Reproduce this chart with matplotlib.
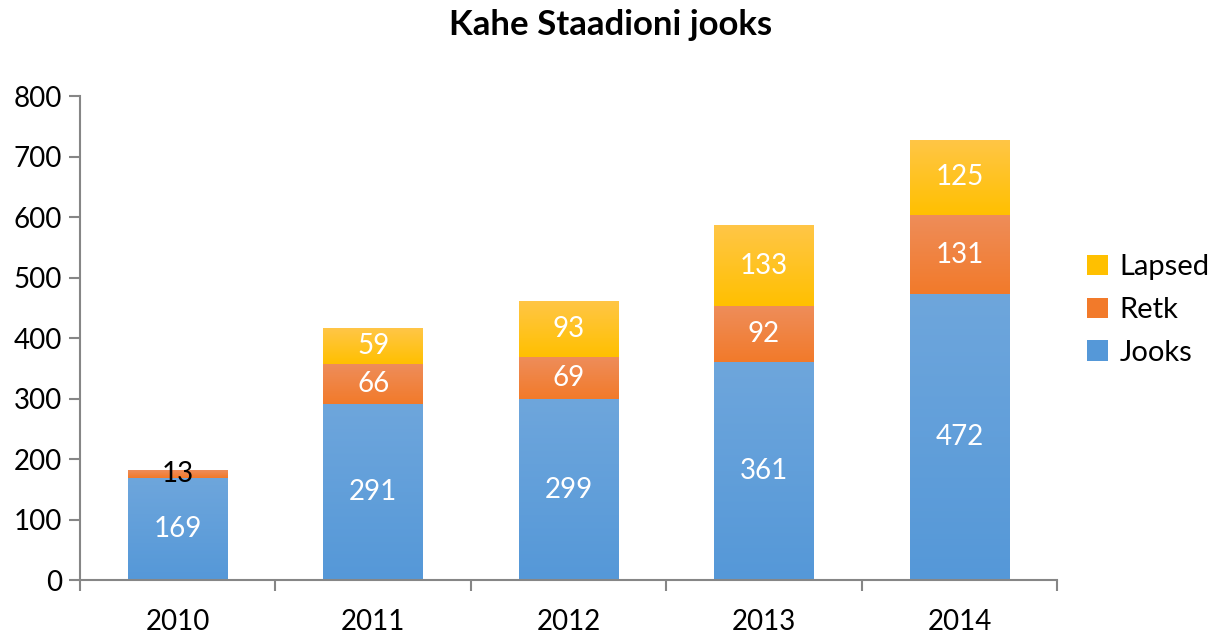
import matplotlib.pyplot as plt
import matplotlib.colors as mcolors
import numpy as np

years = ['2010', '2011', '2012', '2013', '2014']
jooks = [169, 291, 299, 361, 472]
retk = [13, 66, 69, 92, 131]
lapsed = [0, 59, 93, 133, 125]

series = [
    ('Jooks', jooks, '#6ea6dc', '#5598d8'),
    ('Retk', retk, '#ee8d5a', '#f27a2a'),
    ('Lapsed', lapsed, '#ffc647', '#ffc000'),
]

plt.rcParams['font.family'] = ['Lato', 'DejaVu Sans']

fig = plt.figure(figsize=(12.11, 6.33), dpi=100)
ax = fig.add_axes([0.0661, 0.0837, 0.8069, 0.7646])

x = np.arange(len(years))
width = 0.51
bottom = np.zeros(len(years))
handles = []
for name, vals, top_c, bot_c in series:
    vals = np.array(vals, dtype=float)
    bars = ax.bar(x, vals, width, bottom=bottom, color=bot_c, edgecolor='none', label=name)
    cmap = mcolors.LinearSegmentedColormap.from_list(name, [bot_c, top_c])
    grad = np.linspace(0, 1, 256).reshape(-1, 1)
    for b in bars:
        if b.get_height() <= 0:
            continue
        x0, y0 = b.get_x(), b.get_y()
        im = ax.imshow(grad, cmap=cmap, aspect='auto', origin='lower',
                       extent=[x0, x0 + b.get_width(), y0, y0 + b.get_height()], zorder=2)
        im.set_clip_path(b)
    for i, v in enumerate(vals):
        if v <= 0:
            continue
        col = 'black' if v < 30 else 'white'
        ax.text(x[i], bottom[i] + v / 2, '%d' % v, ha='center', va='center',
                fontsize=20, color=col, zorder=5)
    handles.append(bars)
    bottom = bottom + vals

ax.set_xlim(-0.5, 4.5)
ax.set_ylim(0, 800)
ax.set_aspect('auto')
ax.set_yticks(range(0, 801, 100))
ax.set_xticks(x)
ax.set_xticklabels(years)
ax.set_xticks(np.arange(-0.5, 5, 1), minor=True)
ax.tick_params(axis='x', which='major', length=0, labelsize=20, pad=21)
ax.tick_params(axis='x', which='minor', length=8, color='#868686', width=1.5)
ax.tick_params(axis='y', length=8, color='#868686', width=1.5, labelsize=20, pad=5)

for s in ['top', 'right']:
    ax.spines[s].set_visible(False)
for s in ['left', 'bottom']:
    ax.spines[s].set_color('#868686')
    ax.spines[s].set_linewidth(1.5)

ax.legend(handles[::-1], [s[0] for s in series][::-1], loc='center left',
          bbox_to_anchor=(1.031, 0.558), frameon=False, fontsize=21,
          borderaxespad=0, borderpad=0,
          handlelength=0.7, handleheight=0.7, labelspacing=0.58, handletextpad=0.4)

fig.suptitle('Kahe Staadioni jooks', fontsize=25, fontweight='bold', x=0.504, y=0.985)

fig.savefig('out.png', dpi=100)
